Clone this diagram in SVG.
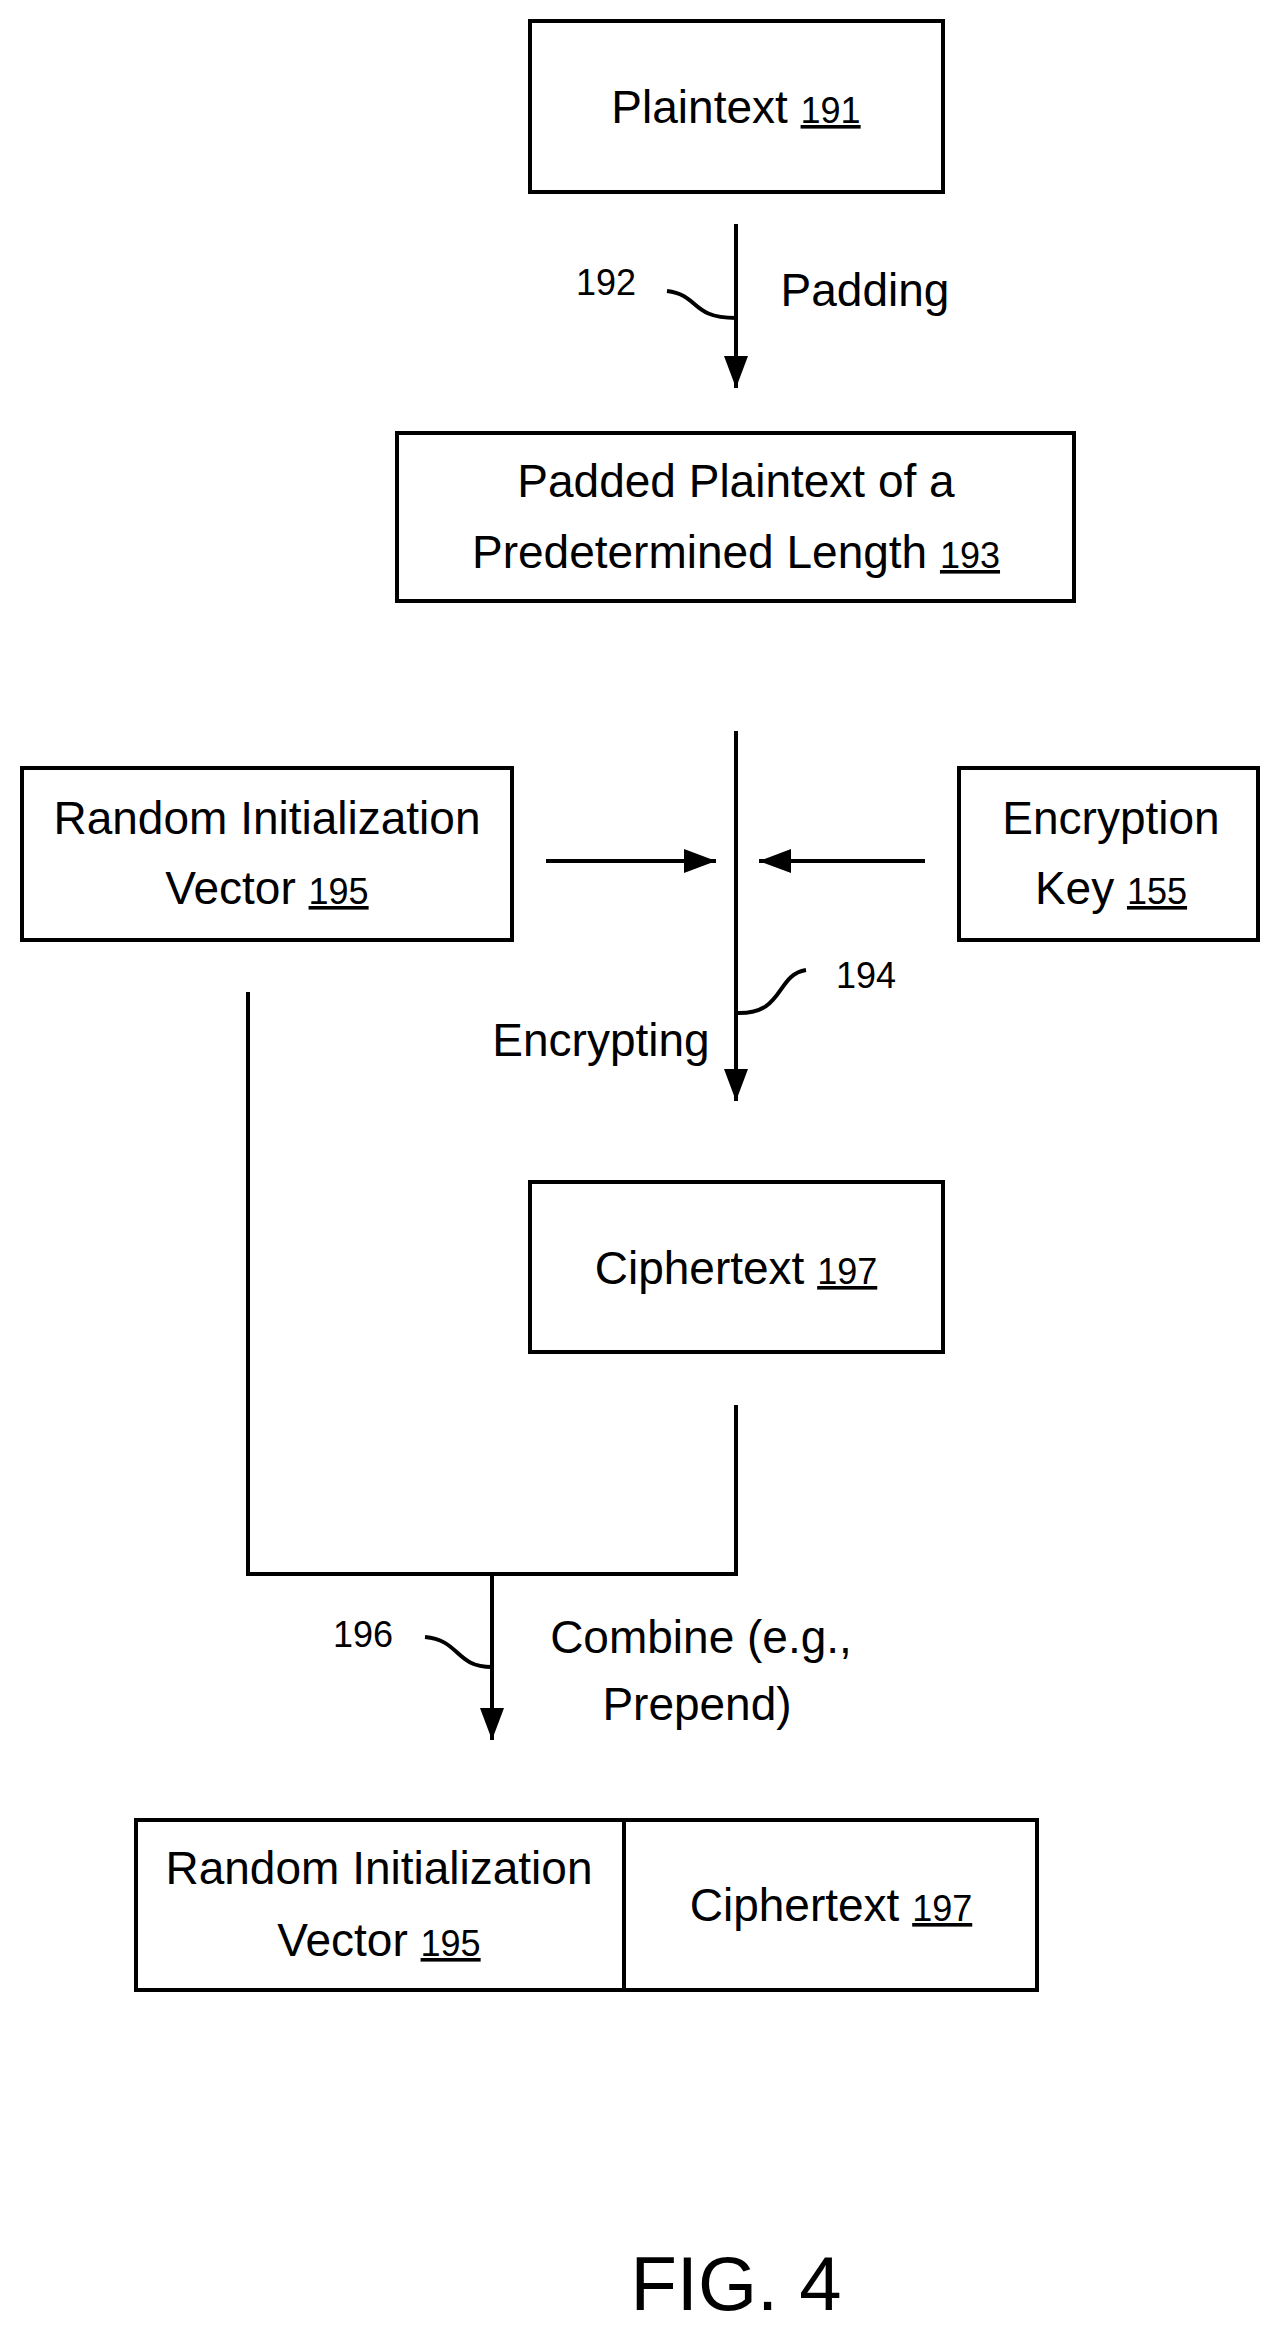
<svg xmlns="http://www.w3.org/2000/svg" width="1283" height="2337" viewBox="0 0 1283 2337">
<style>
.b{fill:#fff;stroke:#000;stroke-width:4}
.l{fill:none;stroke:#000;stroke-width:4}
text{font-family:"Liberation Sans",Arial,sans-serif;font-size:46px;fill:#000;text-anchor:middle}
.n{font-size:36px;text-decoration:underline}
.r{font-size:36px}
</style>
<defs><marker id="a" markerWidth="8" markerHeight="6" refX="8" refY="3" orient="auto" markerUnits="strokeWidth"><path d="M0,0L8,3L0,6z" fill="#000"/></marker></defs>
<rect width="1283" height="2337" fill="#fff"/>
<g id="plaintext"><rect class="b" x="530" y="21" width="413" height="171"/><text x="736" y="123">Plaintext <tspan class="n">191</tspan></text></g>
<g id="padded"><rect class="b" x="397" y="433" width="677" height="168"/><text x="736" y="497">Padded Plaintext of a</text><text x="736" y="568">Predetermined Length <tspan class="n">193</tspan></text></g>
<g id="riv"><rect class="b" x="22" y="768" width="490" height="172"/><text x="267" y="834">Random Initialization</text><text x="267" y="904">Vector <tspan class="n">195</tspan></text></g>
<g id="key"><rect class="b" x="959" y="768" width="299" height="172"/><text x="1111" y="834">Encryption</text><text x="1111" y="904">Key  <tspan class="n">155</tspan></text></g>
<g id="cipher"><rect class="b" x="530" y="1182" width="413" height="170"/><text x="736" y="1284">Ciphertext <tspan class="n">197</tspan></text></g>
<g id="combined"><rect class="b" x="136" y="1820" width="901" height="170"/><line class="l" x1="624" y1="1820" x2="624" y2="1990"/><text x="379" y="1884">Random Initialization</text><text x="379" y="1956">Vector <tspan class="n">195</tspan></text><text x="831" y="1921">Ciphertext <tspan class="n">197</tspan></text></g>
<g id="connectors">
<line class="l" x1="736" y1="224" x2="736" y2="388" marker-end="url(#a)"/>
<path class="l" d="M667,291 C700,295 690,318 736,318" stroke-width="3"/>
<text class="r" x="606" y="295">192</text>
<text x="865" y="306">Padding</text>
<line class="l" x1="736" y1="731" x2="736" y2="1101" marker-end="url(#a)"/>
<line class="l" x1="546" y1="861" x2="716" y2="861" marker-end="url(#a)"/>
<line class="l" x1="925" y1="861" x2="759" y2="861" marker-end="url(#a)"/>
<path class="l" d="M806,970 C775,975 785,1015 736,1013" stroke-width="3"/>
<text class="r" x="866" y="988">194</text>
<text x="601" y="1056">Encrypting</text>
<polyline class="l" points="736,1405 736,1574 248,1574 248,992"/>
<line class="l" x1="492" y1="1574" x2="492" y2="1740" marker-end="url(#a)"/>
<path class="l" d="M425,1637 C460,1640 455,1667 492,1667" stroke-width="3"/>
<text class="r" x="363" y="1647">196</text>
<text x="701" y="1653">Combine (e.g.,</text>
<text x="697" y="1720">Prepend)</text>
</g>
<text x="736" y="2310" style="font-size:76px">FIG. 4</text>
</svg>
